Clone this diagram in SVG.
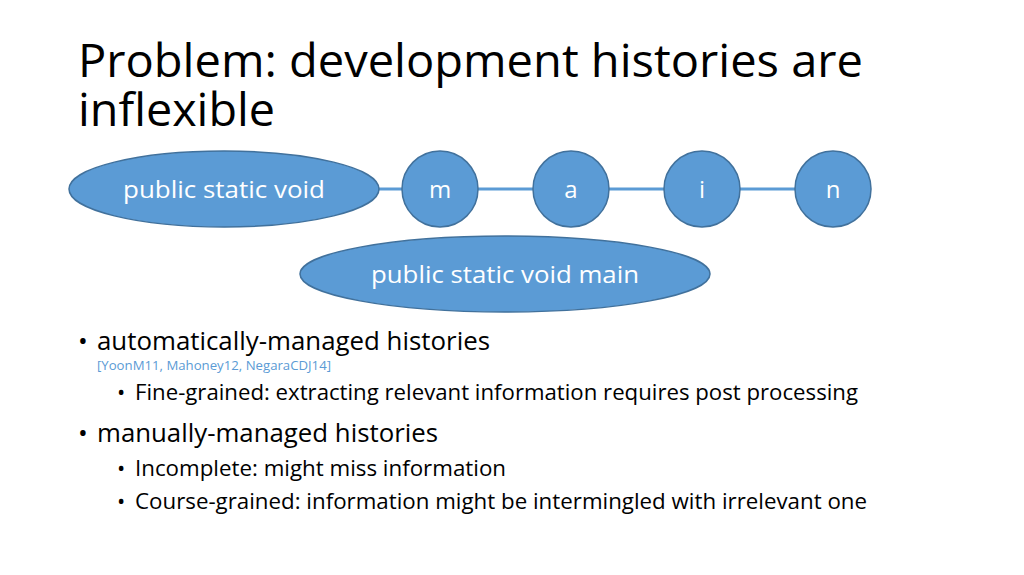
<svg xmlns="http://www.w3.org/2000/svg" width="1024" height="575" viewBox="0 0 1024 575">
<style>
.t{font-family:"Open Sans","DejaVu Sans",sans-serif;fill:#000}
.n{fill:#5b9bd5;stroke:#41719c;stroke-width:1.5}
.nl{font-family:"Open Sans","DejaVu Sans",sans-serif;fill:#fff;font-size:24px;text-anchor:middle}
.c{stroke:#5b9bd5;stroke-width:3}
</style>
<rect width="1024" height="575" fill="#fff"/>
<text class="t" x="78" y="77" font-size="46" textLength="785" lengthAdjust="spacingAndGlyphs">Problem: development histories are</text>
<text class="t" x="78" y="126" font-size="46" textLength="197" lengthAdjust="spacingAndGlyphs">inflexible</text>
<g id="connectors">
<line class="c" x1="378" y1="189" x2="402" y2="189"/>
<line class="c" x1="478" y1="189" x2="533" y2="189"/>
<line class="c" x1="609" y1="189" x2="664" y2="189"/>
<line class="c" x1="740" y1="189" x2="795" y2="189"/>
</g>
<g id="psv"><ellipse class="n" cx="224" cy="189" rx="155" ry="38"/><text class="nl" x="224" y="198" textLength="202" lengthAdjust="spacingAndGlyphs">public static void</text></g>
<g id="m"><circle class="n" cx="440" cy="189" r="38"/><text class="nl" x="440" y="198">m</text></g>
<g id="a"><circle class="n" cx="571" cy="189" r="38"/><text class="nl" x="571" y="198">a</text></g>
<g id="i"><circle class="n" cx="702" cy="189" r="38"/><text class="nl" x="702" y="198">i</text></g>
<g id="n"><circle class="n" cx="833" cy="189" r="38"/><text class="nl" x="833" y="198">n</text></g>
<g id="psvm"><ellipse class="n" cx="505" cy="274" rx="205" ry="38"/><text class="nl" x="505" y="283" textLength="268" lengthAdjust="spacingAndGlyphs">public static void main</text></g>
<g font-family="Open Sans, DejaVu Sans, sans-serif">
<text class="t" x="78" y="350" font-size="26">•</text>
<text class="t" x="97" y="350" font-size="26" textLength="393" lengthAdjust="spacingAndGlyphs">automatically-managed histories</text>
<text x="97" y="370" font-size="13" fill="#5b9bd5" font-family="Open Sans, sans-serif" textLength="234" lengthAdjust="spacingAndGlyphs">[YoonM11, Mahoney12, NegaraCDJ14]</text>
<text class="t" x="117" y="400" font-size="22">•</text>
<text class="t" x="135" y="400" font-size="22" textLength="723" lengthAdjust="spacingAndGlyphs">Fine-grained: extracting relevant information requires post processing</text>
<text class="t" x="78" y="442" font-size="26">•</text>
<text class="t" x="97" y="442" font-size="26" textLength="341" lengthAdjust="spacingAndGlyphs">manually-managed histories</text>
<text class="t" x="117" y="476" font-size="22">•</text>
<text class="t" x="135" y="476" font-size="22" textLength="371" lengthAdjust="spacingAndGlyphs">Incomplete: might miss information</text>
<text class="t" x="117" y="509" font-size="22">•</text>
<text class="t" x="135" y="509" font-size="22" textLength="732" lengthAdjust="spacingAndGlyphs">Course-grained: information might be intermingled with irrelevant one</text>
</g>
</svg>
